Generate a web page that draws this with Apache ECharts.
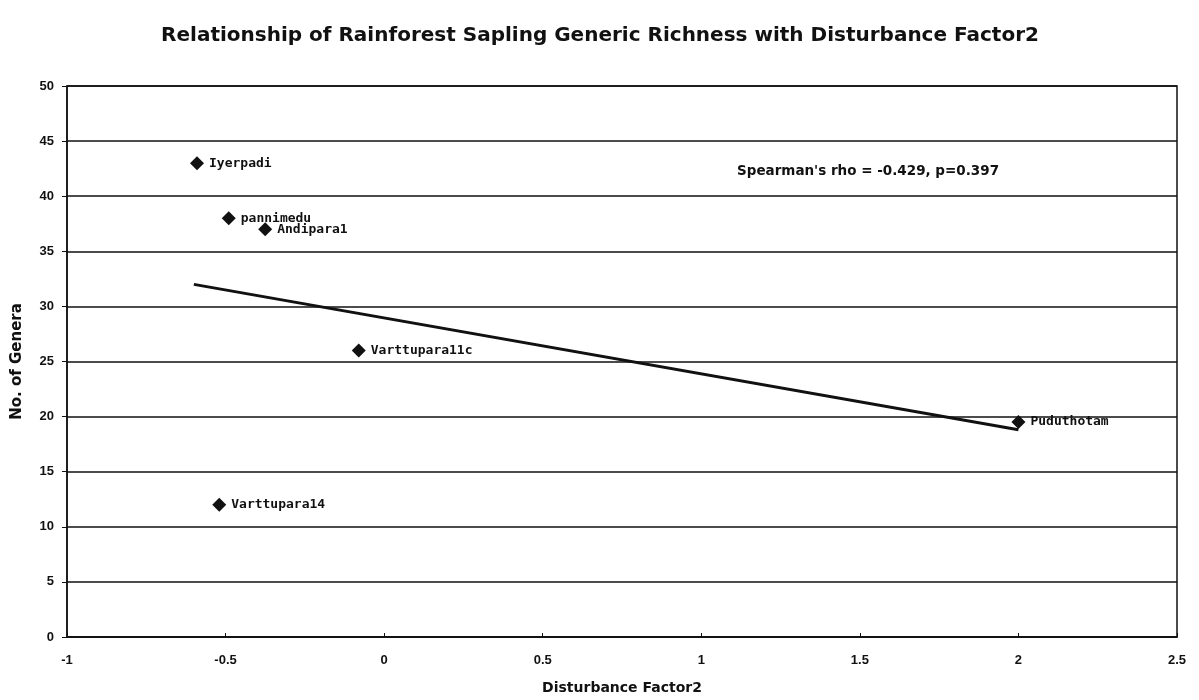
<!DOCTYPE html>
<html>
<head>
<meta charset="utf-8">
<script src="https://cdn.jsdelivr.net/npm/echarts@6/dist/echarts.min.js"></script>
<style>
  html, body { margin: 0; padding: 0; background: #fff; }
  #chart { width: 1199px; height: 700px; }
</style>
</head>
<body>
<div id="chart"></div>
<script>
// Sites and their disturbance factor / number of sapling genera
const siteNames = ['Iyerpadi', 'pannimedu', 'Andipara1', 'Varttupara11c', 'Puduthotam', 'Varttupara14'];
const disturbance = [-0.59, -0.49, -0.375, -0.08, 2.0, -0.52];
const genera = [43, 38, 37, 26, 19.5, 12];

// Fitted trend line end points (x, y)
const trendX = [-0.6, 2.0];
const trendY = [32.0, 18.8];

const xTicks = [-1, -0.5, 0, 0.5, 1, 1.5, 2, 2.5];
const yTicks = [0, 5, 10, 15, 20, 25, 30, 35, 40, 45, 50];

const statText = "Spearman's rho = -0.429, p=0.397";

const points = disturbance.map((x, i) => ({ value: [x, genera[i]], name: siteNames[i] }));
const trend = trendX.map((x, i) => [x, trendY[i]]);

const headFont = 'DejaVu Sans, Liberation Sans, sans-serif';
const tickFont = 'Liberation Sans, Arial, sans-serif';
const monoFont = 'DejaVu Sans Mono, Liberation Mono, monospace';

const chart = echarts.init(document.getElementById('chart'));
chart.setOption({
  backgroundColor: '#fff',
  animation: false,
  title: {
    text: 'Relationship of Rainforest Sapling Generic Richness with Disturbance Factor2',
    left: 595,
    textAlign: 'center',
    top: 21,
    textStyle: { fontFamily: headFont, fontSize: 20, fontWeight: 'bold', color: '#111' }
  },
  grid: { left: 67, right: 22, top: 86, bottom: 62, show: true, borderColor: '#111', borderWidth: 1.5 },
  xAxis: {
    type: 'value',
    min: xTicks[0],
    max: xTicks[xTicks.length - 1],
    interval: 0.5,
    name: 'Disturbance Factor2',
    nameLocation: 'middle',
    nameGap: 44,
    nameTextStyle: { fontFamily: headFont, fontSize: 14, fontWeight: 'bold', color: '#111' },
    axisLine: { onZero: false, lineStyle: { color: '#111', width: 1.5 } },
    axisTick: { inside: true, length: 4, lineStyle: { color: '#111' } },
    axisLabel: { fontFamily: tickFont, fontSize: 13, fontWeight: 'bold', color: '#111', margin: 17,
      formatter: v => String(Math.round(v * 10) / 10) },
    splitLine: { show: false }
  },
  yAxis: {
    type: 'value',
    min: yTicks[0],
    max: yTicks[yTicks.length - 1],
    interval: 5,
    name: 'No. of Genera',
    nameLocation: 'middle',
    nameGap: 42,
    nameTextStyle: { fontFamily: headFont, fontSize: 15, fontWeight: 'bold', color: '#111' },
    axisLine: { onZero: false, lineStyle: { color: '#111', width: 1.5 } },
    axisTick: { length: 5, lineStyle: { color: '#111' } },
    axisLabel: { fontFamily: tickFont, fontSize: 13, fontWeight: 'bold', color: '#111', margin: 13 },
    splitLine: { show: true, lineStyle: { color: '#111', width: 1.5 } }
  },
  graphic: [{
    type: 'text',
    left: 737,
    top: 164,
    style: { text: statText, fontFamily: headFont, fontSize: 13.5, fontWeight: 'bold', fill: '#111' }
  }],
  series: [
    {
      type: 'line',
      data: trend,
      symbol: 'none',
      lineStyle: { color: '#111', width: 3 },
      z: 2
    },
    {
      type: 'scatter',
      data: points,
      symbol: 'diamond',
      symbolSize: 14,
      itemStyle: { color: '#111', opacity: 1 },
      label: {
        show: true,
        position: 'right',
        distance: 5,
        formatter: p => p.name,
        fontFamily: monoFont,
        fontSize: 13,
        fontWeight: 'bold',
        color: '#111'
      },
      z: 3
    }
  ]
});
</script>
</body>
</html>
